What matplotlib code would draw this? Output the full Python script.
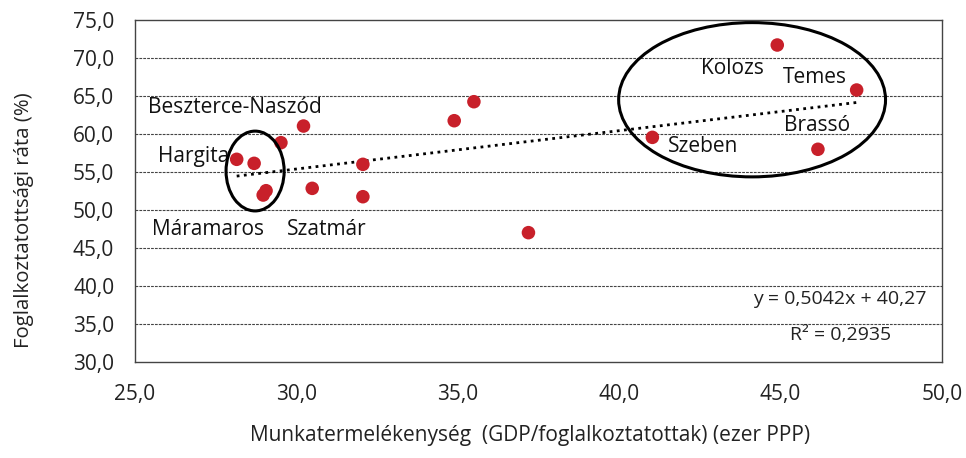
import numpy as np
import matplotlib.pyplot as plt
from matplotlib.patches import Ellipse
from matplotlib.ticker import FuncFormatter

# productivity (x) and employment rate (y) per county
productivity = [28.15, 28.69, 29.06, 28.97, 29.52, 30.22, 30.49, 32.06,
                32.06, 34.89, 35.50, 37.19, 41.03, 44.90, 47.36, 46.16]
employment = [56.67, 56.14, 52.54, 51.97, 58.86, 61.05, 52.85, 56.01,
              51.75, 61.75, 64.25, 47.02, 59.56, 71.71, 65.79, 57.99]

# trend line as given in the chart
slope = 0.5042
intercept = 40.27
r_squared = 0.2935

labels = ["Beszterce-Naszód", "Hargita", "Máramaros", "Szatmár",
          "Kolozs", "Temes", "Brassó", "Szeben"]
label_x = [25.40, 25.71, 25.53, 29.71, 42.55, 45.06, 45.12, 41.50]
label_y = [63.55, 57.1, 47.37, 47.37, 68.68, 67.5, 61.18, 58.42]

plt.rcParams['font.family'] = ['Open Sans', 'DejaVu Sans']

fig, ax = plt.subplots(figsize=(9.66, 4.58), dpi=100)
fig.subplots_adjust(left=0.1398, right=0.975, top=0.9563, bottom=0.2096)

ax.set_xlim(25, 50)
ax.set_ylim(30, 75)
ax.set_xticks(np.arange(25, 50.1, 5))
ax.set_yticks(np.arange(30, 75.1, 5))
fmt = FuncFormatter(lambda v, p: f"{v:.1f}".replace('.', ','))
ax.xaxis.set_major_formatter(fmt)
ax.yaxis.set_major_formatter(fmt)
ax.tick_params(length=0, labelsize=15, colors='#222222')
ax.tick_params(axis='y', pad=15)
ax.tick_params(axis='x', pad=16)

for v in np.arange(35, 75, 5):
    ax.axhline(v, color='#444444', lw=0.8, ls=(0, (2.5, 1)), zorder=0)

for s in ax.spines.values():
    s.set_color('#444444')
    s.set_linewidth(1.0)

ax.scatter(productivity, employment, s=95, color='#C8202A', zorder=3,
           edgecolors='none')

xs = np.array([min(productivity), max(productivity)])
ax.plot(xs, slope * xs + intercept, color='black', lw=2, ls=(0, (1, 1.6)),
        zorder=2)

ax.add_patch(Ellipse((28.72, 55.13), 1.8, 10.5, fill=False, lw=2.2,
                     ec='black', zorder=4))
ax.add_patch(Ellipse((44.12, 64.51), 8.27, 20.3, fill=False, lw=2.2,
                     ec='black', zorder=4))

for t, x, y in zip(labels, label_x, label_y):
    ax.text(x, y, t, fontsize=15, color='#111111', ha='left', va='center')

ax.text(46.85, 38.3, f"y = {slope:.4f}x + {intercept:.2f}".replace('.', ','),
        fontsize=14, ha='center', va='center', color='#222222')
ax.text(46.85, 33.6, f"R² = {r_squared:.4f}".replace('.', ','),
        fontsize=14, ha='center', va='center', color='#222222')

ax.set_xlabel("Munkatermelékenység  (GDP/foglalkoztatottak) (ezer PPP)",
              fontsize=15, color='#222222')
ax.xaxis.set_label_coords(0.489, -0.185)
ax.set_ylabel("Foglalkoztatottsági ráta (%)", fontsize=14.7,
              color='#222222')
ax.yaxis.set_label_coords(-0.125, 0.415)

fig.savefig("out.png", dpi=100)
